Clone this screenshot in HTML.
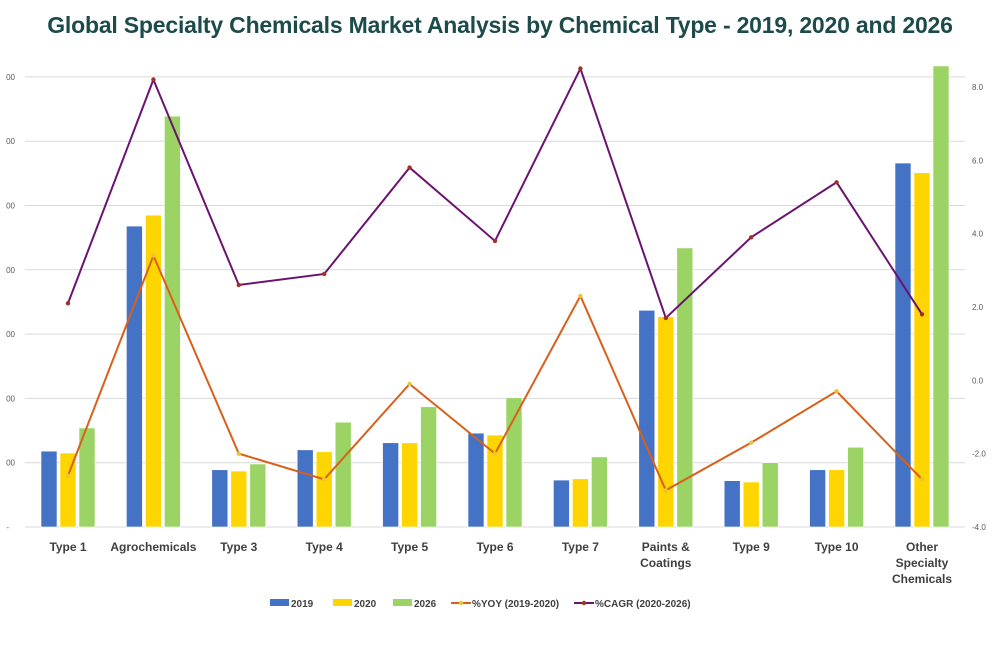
<!DOCTYPE html>
<html><head><meta charset="utf-8"><style>
body{margin:0;background:#fff;width:1000px;height:667px;overflow:hidden;font-family:"Liberation Sans",sans-serif}
</style></head><body>
<svg id="chart" width="1000" height="667" xmlns="http://www.w3.org/2000/svg">
<defs><clipPath id="lclip"><rect x="6" y="0" width="30" height="667"/></clipPath></defs>
<text x="500" y="33" text-anchor="middle" font-family="Liberation Sans, sans-serif" font-weight="bold" font-size="23" letter-spacing="-0.2" fill="#1d4b4b">Global Specialty Chemicals Market Analysis by Chemical Type - 2019, 2020 and 2026</text>
<g id="grid"></g><g id="lticks" clip-path="url(#lclip)"></g><g id="bars"></g><g id="lines"></g><g id="labels"></g><g id="legend"></g>
</svg>
<script>
const categories=["Type 1","Agrochemicals","Type 3","Type 4","Type 5","Type 6","Type 7","Paints &|Coatings","Type 9","Type 10","Other|Specialty|Chemicals"];
const v2019=[118,468,89,120,131,146,73,337,72,89,566];
const v2020=[115,485,87,117,131,143,75,327,70,89,551];
const v2026=[154,639,98,163,187,201,109,434,100,124,717];
const yoy=[-2.6,3.4,-2.0,-2.7,-0.1,-2.0,2.3,-3.0,-1.7,-0.3,-2.7];
const cagr=[2.1,8.2,2.6,2.9,5.8,3.8,8.5,1.7,3.9,5.4,1.8];
const leftTicks=[0,100,200,300,400,500,600,700];
const rightTicks=[-4,-2,0,2,4,6,8];
const NS="http://www.w3.org/2000/svg";
const base=527,pxPer=0.643;
const yL=v=>base-v*pxPer;
const yR=v=>380.3-v*36.67;
const xC=i=>68+i*85.4;
function mk(p,tag,at){const e=document.createElementNS(NS,tag);for(const k in at)e.setAttribute(k,at[k]);document.getElementById(p).appendChild(e);return e;}
leftTicks.forEach(t=>{
 const l=mk("grid","line",{x1:25,x2:965,y1:yL(t),y2:yL(t),stroke:"#d9d9d9","stroke-width":1});
 
 
 const tx=mk("lticks","text",{x:t===0?9:15,y:yL(t)+3,"text-anchor":"end","font-size":8,fill:"#595959"});
 tx.textContent=t===0?"-":String(t);
 
 
});
rightTicks.forEach(t=>{
 const tx=mk("grid","text",{x:972,y:yR(t)+3,"font-size":8,fill:"#595959"});
 tx.textContent=t.toFixed(1);
 
 
});
const series=[[v2019,"#4472c4",-19],[v2020,"#ffd500",0],[v2026,"#9bd464",19]];
series.forEach(([arr,c,off],si)=>arr.forEach((v,i)=>{
 const r=mk("bars","rect",{x:xC(i)+off-8,y:yL(v),width:16,height:base-yL(v),fill:c,stroke:"#ffffff","stroke-width":0.6});
 
 
}));
function line(arr,c,mc,name){
 const p=mk("lines","polyline",{points:arr.map((v,i)=>xC(i)+","+yR(v)).join(" "),fill:"none",stroke:c,"stroke-width":2});
 
 
 arr.forEach((v,i)=>{const m=mk("lines","circle",{cx:xC(i),cy:yR(v),r:2.2,fill:mc});
 
 });
}
line(yoy,"#d9601a","#e8c43a","yoy");
line(cagr,"#6a1470","#a0302a","cagr");
categories.forEach((c,i)=>{
 c.split("|").forEach((s,j)=>{
  const t=mk("labels","text",{x:xC(i),y:551+j*16,"text-anchor":"middle","font-size":12,"font-weight":"bold",fill:"#404040"});
  t.textContent=s;
  
  
 });
});
const leg=[["rect","#4472c4","2019",270],["rect","#ffd500","2020",333],["rect","#9bd464","2026",393],["line","#d9601a","%YOY (2019-2020)",451,"#e8c43a"],["line","#6a1470","%CAGR (2020-2026)",574,"#a0302a"]];
leg.forEach(([k,c,lab,x,mc])=>{
 const g=mk("legend","g",{});
 
 
 if(k==="rect"){const r=document.createElementNS(NS,"rect");r.setAttribute("x",x);r.setAttribute("y",599);r.setAttribute("width",19);r.setAttribute("height",7);r.setAttribute("fill",c);g.appendChild(r);}
 else{const l=document.createElementNS(NS,"line");l.setAttribute("x1",x);l.setAttribute("x2",x+20);l.setAttribute("y1",603);l.setAttribute("y2",603);l.setAttribute("stroke",c);l.setAttribute("stroke-width",2);g.appendChild(l);
 const m=document.createElementNS(NS,"circle");m.setAttribute("cx",x+10);m.setAttribute("cy",603);m.setAttribute("r",2.2);m.setAttribute("fill",mc);g.appendChild(m);}
 const t=document.createElementNS(NS,"text");t.setAttribute("x",x+21);t.setAttribute("y",607);t.setAttribute("font-size",10);t.setAttribute("font-weight","bold");t.setAttribute("fill","#404040");t.textContent=lab;g.appendChild(t);
});
</script>
</body></html>
